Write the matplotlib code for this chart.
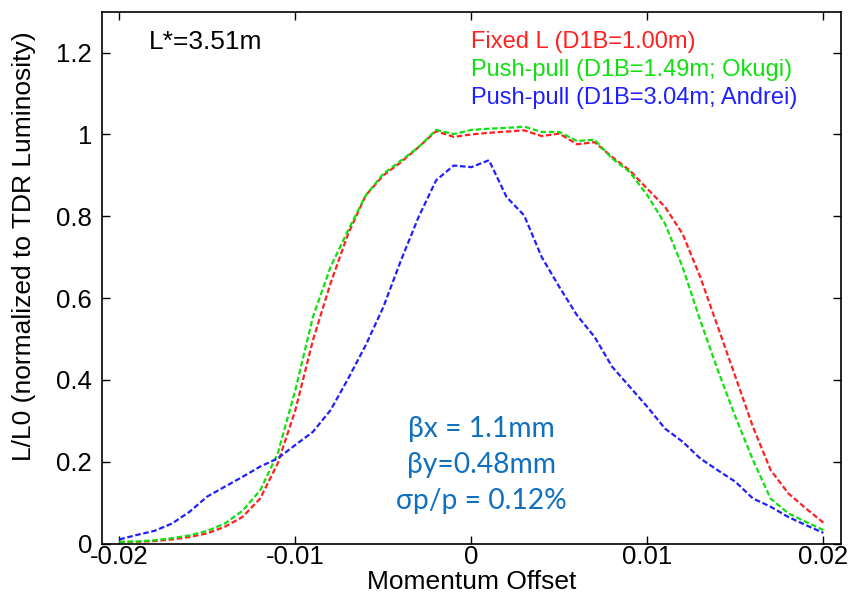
import matplotlib
matplotlib.use("Agg")
import matplotlib.pyplot as plt
import numpy as np

# momentum offset grid (every 0.001)
offset = np.round(np.arange(-0.020, 0.0205, 0.001), 3)

fixed_L = [0.004, 0.004, 0.006, 0.010, 0.016, 0.025, 0.041, 0.065, 0.110, 0.196,
           0.326, 0.497, 0.636, 0.757, 0.851, 0.900, 0.932, 0.969, 1.008, 0.994,
           1.000, 1.004, 1.007, 1.010, 0.996, 1.002, 0.976, 0.981, 0.945, 0.912,
           0.867, 0.823, 0.757, 0.652, 0.530, 0.408, 0.285, 0.180, 0.123, 0.086,
           0.051]
okugi = [0.004, 0.005, 0.008, 0.013, 0.020, 0.031, 0.049, 0.080, 0.130, 0.220,
         0.375, 0.554, 0.676, 0.766, 0.851, 0.904, 0.936, 0.969, 1.011, 1.001,
         1.011, 1.014, 1.016, 1.019, 1.006, 1.006, 0.984, 0.987, 0.941, 0.908,
         0.851, 0.782, 0.676, 0.546, 0.424, 0.310, 0.204, 0.110, 0.074, 0.053,
         0.033]
andrei = [0.010, 0.021, 0.031, 0.049, 0.078, 0.115, 0.139, 0.163, 0.188, 0.208,
          0.241, 0.273, 0.326, 0.403, 0.485, 0.578, 0.692, 0.798, 0.888, 0.924,
          0.920, 0.937, 0.847, 0.802, 0.700, 0.627, 0.558, 0.505, 0.432, 0.383,
          0.334, 0.281, 0.249, 0.208, 0.179, 0.151, 0.110, 0.090, 0.065, 0.045,
          0.026]

labels = ["Fixed L (D1B=1.00m)",
          "Push-pull (D1B=1.49m; Okugi)",
          "Push-pull (D1B=3.04m; Andrei)"]
colors = ["#ff2020", "#10e010", "#2020ff"]

plt.rcParams['font.family'] = ['Liberation Sans', 'DejaVu Sans']

fig = plt.figure(figsize=(8.57, 5.94), dpi=100)
ax = fig.add_axes([0.1187, 0.085, 0.8626, 0.8953])

for series, c in zip([fixed_L, okugi, andrei], colors):
    ax.plot(offset, series, color=c, linestyle=(0, (2.5, 1.2)), linewidth=1.6)

ax.set_xlim(-0.021, 0.021)
ax.set_ylim(0, 1.3)
ax.set_xticks([-0.02, -0.01, 0, 0.01, 0.02])
ax.set_xticklabels(["-0.02", "-0.01", "0", "0.01", "0.02"])
ax.set_yticks([0, 0.2, 0.4, 0.6, 0.8, 1.0, 1.2])
ax.set_yticklabels(["0", "0.2", "0.4", "0.6", "0.8", "1", "1.2"])
ax.tick_params(direction="in", top=True, right=True, length=6, width=1,
               labelsize=18.5)
ax.tick_params(axis="x", pad=1)
ax.tick_params(axis="y", pad=7)
for s in ax.spines.values():
    s.set_linewidth(1.2)

ax.set_xlabel("Momentum Offset", fontsize=19)
ax.xaxis.set_label_coords(0.5, -0.05)
ax.set_ylabel("L/L0 (normalized to TDR Luminosity)", fontsize=19)
ax.yaxis.set_label_coords(-0.089, 0.559)

# legend-like labels
ax.text(-0.0183, 1.225, "L*=3.51m", fontsize=19, va="center", ha="left")
for i, (lab, c) in enumerate(zip(labels, colors)):
    ax.text(0.0000, 1.226 - i * 0.069, lab, color=c, fontsize=17,
            va="center", ha="left")

ax.text(0.00055, 0.192, "βx = 1.1mm\nβy=0.48mm\nσp/p = 0.12%",
        color="#1070c0", fontsize=20.3, ha="center", va="center",
        linespacing=1.46, family=["Lato", "DejaVu Sans"])

fig.savefig("out.png", dpi=100)
